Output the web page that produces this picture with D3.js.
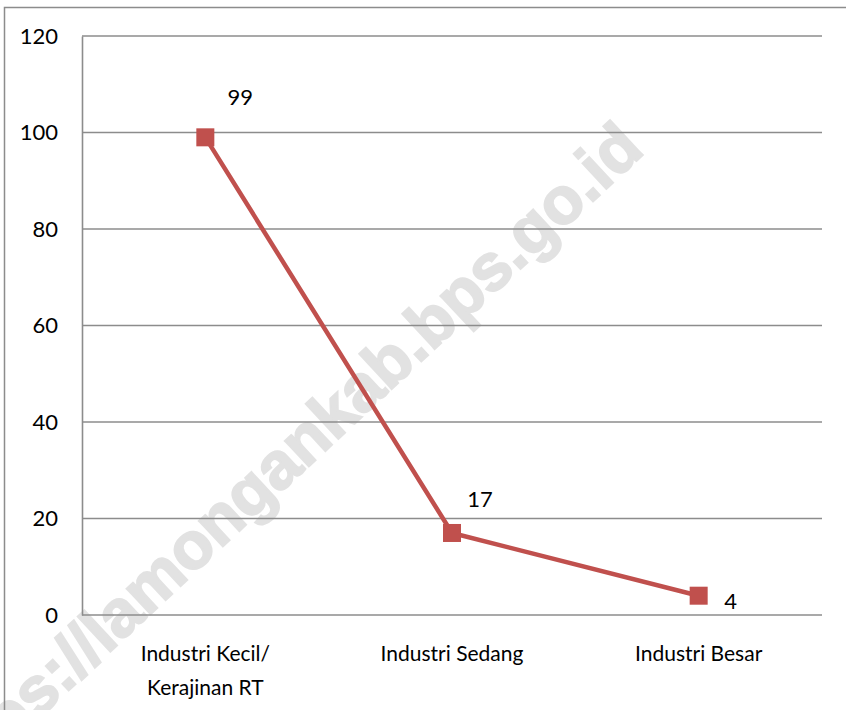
<!DOCTYPE html>
<html>
<head>
<meta charset="utf-8">
<script src="https://cdn.jsdelivr.net/npm/d3@7"></script>
<style>
  body { margin: 0; background: #fff; }
  svg { display: block; }
</style>
</head>
<body>
<svg id="chart" width="846" height="710"></svg>
<script>
// data
const categories = [["Industri Kecil/", "Kerajinan RT"], ["Industri Sedang"], ["Industri Besar"]];
const values = [99, 17, 4];
const yTicks = [0, 20, 40, 60, 80, 100, 120];
// label offsets from the marker (placement only)
const labelOffsets = [[35, -40], [28, -34], [32, 6]];

const svg = d3.select("#chart");
const font = "Lato, 'Open Sans', sans-serif";
const red = "#c0504d";
const grid = "#8c8c8c";

const plot = { left: 82, right: 822, top: 36, bottom: 615 };

// watermark, drawn first so everything else sits on top
svg.append("text")
  .attr("transform", "translate(646,152) rotate(-43)")
  .attr("text-anchor", "end")
  .attr("font-family", "'Liberation Sans', Arial, sans-serif")
  .attr("font-weight", "bold")
  .attr("font-size", 66)
  .attr("fill", "#e2e2e2")
  .attr("stroke", "#e2e2e2")
  .attr("stroke-width", 2)
  .text("https://lamongankab.bps.go.id");

// chart border
svg.append("rect")
  .attr("x", 4.5).attr("y", 7.5)
  .attr("width", 900).attr("height", 800)
  .attr("fill", "none")
  .attr("stroke", grid)
  .attr("stroke-width", 1.5);

const x = d3.scaleBand()
  .domain(d3.range(categories.length))
  .range([plot.left, plot.right]);

const y = d3.scaleLinear()
  .domain([0, 120])
  .range([plot.bottom, plot.top]);

// gridlines
svg.append("g")
  .selectAll("line")
  .data(yTicks)
  .join("line")
  .attr("x1", plot.left).attr("x2", plot.right)
  .attr("y1", d => y(d)).attr("y2", d => y(d))
  .attr("stroke", grid)
  .attr("stroke-width", 1.6);

// y axis
const yAxis = svg.append("g")
  .attr("transform", `translate(${plot.left},0)`)
  .call(d3.axisLeft(y).tickValues(yTicks).tickSize(0).tickPadding(24));
yAxis.select(".domain").attr("stroke", grid).attr("stroke-width", 1.6);
yAxis.selectAll("text")
  .attr("font-family", font)
  .attr("font-size", 22)
  .attr("fill", "#000");

// category labels
const xl = svg.append("g")
  .selectAll("text")
  .data(categories)
  .join("text")
  .attr("x", (d, i) => x(i) + x.bandwidth() / 2)
  .attr("y", 661)
  .attr("text-anchor", "middle")
  .attr("font-family", font)
  .attr("font-size", 21)
  .attr("fill", "#000");
xl.selectAll("tspan")
  .data(d => d)
  .join("tspan")
  .attr("x", function() { return d3.select(this.parentNode).attr("x"); })
  .attr("dy", (d, i) => i === 0 ? 0 : 34)
  .text(d => d);

// line
const line = d3.line()
  .x((d, i) => x(i) + x.bandwidth() / 2)
  .y(d => y(d));

svg.append("path")
  .datum(values)
  .attr("d", line)
  .attr("fill", "none")
  .attr("stroke", red)
  .attr("stroke-width", 4.5)
  .attr("stroke-linejoin", "round");

// markers
const ms = 18;
svg.append("g")
  .selectAll("rect")
  .data(values)
  .join("rect")
  .attr("x", (d, i) => x(i) + x.bandwidth() / 2 - ms / 2)
  .attr("y", d => y(d) - ms / 2)
  .attr("width", ms).attr("height", ms)
  .attr("fill", red);

// data labels
svg.append("g")
  .selectAll("text")
  .data(values)
  .join("text")
  .attr("x", (d, i) => x(i) + x.bandwidth() / 2 + labelOffsets[i][0])
  .attr("y", (d, i) => y(d) + labelOffsets[i][1])
  .attr("dy", "0.35em")
  .attr("text-anchor", "middle")
  .attr("font-family", font)
  .attr("font-size", 22)
  .attr("fill", "#000")
  .text(d => d);
</script>
</body>
</html>
